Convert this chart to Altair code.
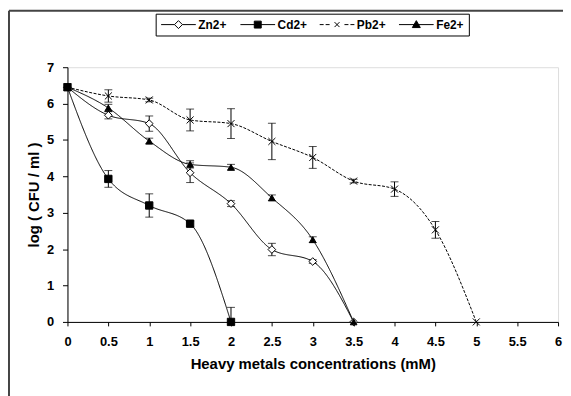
import altair as alt
import pandas as pd

series_names = ["Zn2+", "Cd2+", "Pb2+", "Fe2+"]

conc = [0, 0.5, 1, 1.5, 2, 2.5, 3, 3.5, 4, 4.5, 5]
zn = [6.45, 5.68, 5.45, 4.10, 3.25, 1.99, 1.66, 0]
zn_err = [0, 0.10, 0.21, 0.27, 0.08, 0.17, 0.05, 0]
cd = [6.45, 3.93, 3.20, 2.70, 0]
cd_err = [0, 0.23, 0.32, 0.07, 0.40]
pb = [6.45, 6.21, 6.10, 5.55, 5.45, 4.96, 4.52, 3.87, 3.65, 2.53, 0]
pb_err = [0, 0.17, 0.05, 0.30, 0.41, 0.50, 0.30, 0.05, 0.20, 0.23, 0]
fe = [6.45, 5.88, 4.97, 4.33, 4.25, 3.41, 2.26, 0]
fe_err = [0, 0.10, 0.08, 0.10, 0.08, 0.08, 0.08, 0]

x_ticks = [0, 0.5, 1, 1.5, 2, 2.5, 3, 3.5, 4, 4.5, 5, 5.5, 6]
y_ticks = [0, 1, 2, 3, 4, 5, 6, 7]

rows = []
for name, vals, errs in [("Zn2+", zn, zn_err), ("Cd2+", cd, cd_err),
                         ("Pb2+", pb, pb_err), ("Fe2+", fe, fe_err)]:
    for x, v, e in zip(conc, vals, errs):
        rows.append({"series": name, "x": x, "y": v,
                     "lo": max(v - e, 0), "hi": v + e, "err": e})
df = pd.DataFrame(rows)

FONT = "Liberation Sans"

xscale = alt.Scale(domain=[0, 6], nice=False)
yscale = alt.Scale(domain=[0, 7], nice=False)

xaxis = alt.Axis(values=x_ticks, format="~g", labelOverlap=False,
                 title="Heavy metals concentrations (mM)", grid=False,
                 labelFont=FONT, labelFontWeight="bold", labelFontSize=13,
                 labelColor="black", titleFont=FONT, titleFontWeight="bold",
                 titleFontSize=15, titleColor="black", domainColor="black",
                 tickColor="black", tickSize=4, labelPadding=10, titlePadding=8,
                 labelFlush=False)
yaxis = alt.Axis(values=y_ticks, title="log ( CFU / ml )",
                 format="d", labelOverlap=False,
                 grid=False, labelFont=FONT, labelFontWeight="bold",
                 labelFontSize=13, labelColor="black", titleFont=FONT,
                 titleFontWeight="bold", titleFontSize=15, titleColor="black",
                 domainColor="black", tickColor="black", tickSize=5,
                 labelPadding=9, titlePadding=5)

X = alt.X("x:Q", scale=xscale, axis=xaxis)
Y = alt.Y("y:Q", scale=yscale, axis=yaxis)
YLO = alt.Y("lo:Q", scale=yscale, axis=yaxis)
YHI = alt.Y("hi:Q", scale=yscale, axis=yaxis)

base = alt.Chart(df)

lines = base.mark_line(interpolate="monotone", color="black", strokeWidth=1).encode(
    x=X, y=Y,
    detail="series:N",
    strokeDash=alt.StrokeDash("series:N",
                              scale=alt.Scale(domain=series_names,
                                              range=[[1, 0], [1, 0], [3, 1.5], [1, 0]]),
                              legend=None),
)

err = base.transform_filter("datum.err > 0")
bars = err.mark_rule(color="black", strokeWidth=1).encode(x=X, y=YLO, y2="hi:Q")
cap_lo = err.mark_tick(color="black", orient="horizontal", size=8, thickness=1).encode(
    x=X, y=YLO)
cap_hi = err.mark_tick(color="black", orient="horizontal", size=8, thickness=1).encode(
    x=X, y=YHI)

XPATH = "M-1,-1L1,1M-1,1L1,-1"
points = base.mark_point(stroke="black", strokeWidth=1, opacity=1).encode(
    x=X, y=Y,
    shape=alt.Shape("series:N", scale=alt.Scale(
        domain=series_names, range=["diamond", "square", XPATH, "triangle-up"]),
        legend=None),
    fill=alt.Fill("series:N", scale=alt.Scale(
        domain=series_names, range=["white", "black", "black", "black"]),
        legend=None),
    size=alt.Size("series:N", scale=alt.Scale(
        domain=series_names, range=[60, 45, 25, 55]), legend=None),
)

leg_paths = [
    "M-3.5,0H-0.8M0.8,0H3.5M0,-0.8L0.8,0L0,0.8L-0.8,0Z",
    "M-3.5,0H3.5M-0.7,-0.7H0.7V0.7H-0.7Z",
    "M-3.5,0H-2.7M-2.3,0H-1.5M1.5,0H2.3M2.7,0H3.5M-0.5,-0.5L0.5,0.5M-0.5,0.5L0.5,-0.5",
    "M-3.5,0H3.5M0,-0.8L0.8,0.6H-0.8Z",
]
leg_common = dict(title=None, orient="none", direction="horizontal",
                  legendX=89, legendY=-54, symbolSize=100,
                  labelOffset=14, columnPadding=10, columns=4, gridAlign="all",
                  labelFont=FONT, labelFontWeight="bold",
                  labelFontSize=12, labelColor="black",
                  strokeColor="black", padding=5, symbolOffset=12,
                  symbolStrokeWidth=1, symbolOpacity=1)
legend_layer = base.transform_filter("false").mark_point(strokeWidth=1, opacity=1).encode(
    x=X, y=Y,
    shape=alt.Shape("series:N", scale=alt.Scale(domain=series_names, range=leg_paths),
                    legend=alt.Legend(**leg_common)),
    fill=alt.Fill("series:N", scale=alt.Scale(domain=series_names,
                                              range=["white", "black", "black", "black"]),
                  legend=alt.Legend(**leg_common)),
    stroke=alt.Stroke("series:N", scale=alt.Scale(domain=series_names,
                                                  range=["black", "black", "black", "black"]),
                      legend=alt.Legend(**leg_common)),
)

frame_df = pd.DataFrame({"k": [0]})
frame_top = alt.Chart(frame_df).mark_rule(color="#444", strokeWidth=2).encode(
    x=alt.value(-59), x2=alt.value(520), y=alt.value(-57))
frame_left = alt.Chart(frame_df).mark_rule(color="#444", strokeWidth=2).encode(
    x=alt.value(-59), y=alt.value(-57), y2=alt.value(340))

chart = alt.layer(lines, bars, cap_lo, cap_hi, points, legend_layer,
                  frame_top, frame_left).resolve_scale(
    shape="independent", fill="independent", size="independent",
    stroke="independent"
).properties(
    width=495, height=257,
    padding={"left": 60, "top": 58, "right": 5, "bottom": 73},
    autosize=alt.AutoSizeParams(type="none"),
).configure_view(stroke=None).configure(background="white")

chart.save("out.html", embed_options={"renderer": "svg", "actions": False})
